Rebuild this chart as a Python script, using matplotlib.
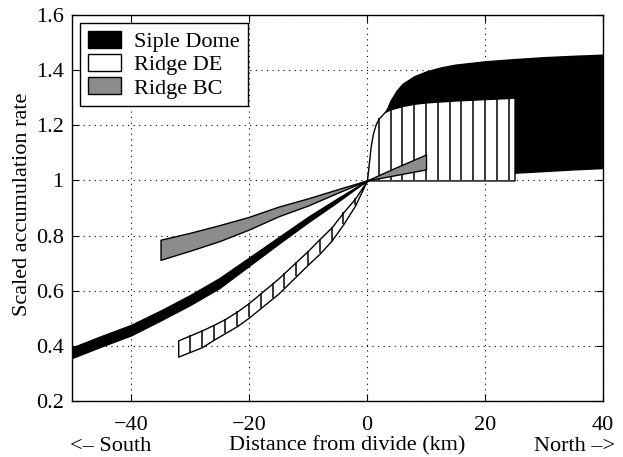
import numpy as np
import matplotlib
matplotlib.use("Agg")
import matplotlib.pyplot as plt
from matplotlib.patches import Patch
from matplotlib.ticker import FixedLocator, FuncFormatter

plt.rcParams['font.family'] = ['Liberation Serif', 'DejaVu Serif']
plt.rcParams['axes.unicode_minus'] = True

# ---- data ----
siple_x = [-50, -45, -40, -35, -30, -25, -20, -15, -10, -5, 0,
           1, 2, 3, 3.5, 4, 5, 6, 8, 10, 12.5, 15, 20, 25, 30, 35, 40]
siple_upper = [0.394, 0.436, 0.476, 0.528, 0.584, 0.646, 0.72, 0.794, 0.868, 0.935, 1.0,
               1.15, 1.21, 1.245, 1.265, 1.29, 1.325, 1.35, 1.378, 1.395, 1.41, 1.42,
               1.432, 1.44, 1.447, 1.452, 1.456]
siple_lower = [0.356, 0.398, 0.438, 0.492, 0.548, 0.61, 0.69, 0.77, 0.848, 0.922, 1.0,
               1.003, 1.006, 1.008, 1.009, 1.01, 1.012, 1.013, 1.016, 1.018, 1.02, 1.022,
               1.025, 1.028, 1.034, 1.04, 1.045]

de_x = [-32, -30, -28, -26, -24, -22, -20, -15, -10, -8, -6, -4, -2, 0,
        0.3, 0.6, 1, 1.5, 2, 3, 4, 6, 8, 10, 15, 20, 25]
de_upper = [0.42, 0.438, 0.456, 0.476, 0.498, 0.525, 0.556, 0.645, 0.745, 0.788, 0.83,
            0.885, 0.935, 1.0,
            1.06, 1.12, 1.17, 1.205, 1.225, 1.248, 1.258, 1.27, 1.278, 1.283, 1.29, 1.295, 1.30]
de_lower = [0.361, 0.378, 0.395, 0.422, 0.447, 0.472, 0.503, 0.59, 0.695, 0.735, 0.782,
            0.842, 0.91, 1.0,
            1.0, 1.0, 1.0, 1.0, 1.0, 1.0, 1.0, 1.0, 1.0, 1.0, 1.0, 1.0, 1.0]

bc_x = [-35, -30, -25, -20, -15, -10, -5, 0, 5, 10]
bc_upper = [0.785, 0.81, 0.838, 0.868, 0.905, 0.935, 0.968, 1.0, 1.048, 1.094]
bc_lower = [0.712, 0.745, 0.78, 0.822, 0.87, 0.909, 0.955, 1.0, 1.02, 1.04]

de_hatch_x = [-30, -28, -26, -24, -22, -20, -18, -16, -14, -12, -10, -8, -6, -4, -2,
              2, 4, 6, 8, 10, 12, 14, 16, 18, 20, 22, 24]

xticks = [-40, -20, 0, 20, 40]
yticks = [0.2, 0.4, 0.6, 0.8, 1.0, 1.2, 1.4, 1.6]

labels = ['Siple Dome', 'Ridge DE', 'Ridge BC']
colors = ['black', 'white', '0.55']

# ---- figure ----
fig = plt.figure(figsize=(6.23, 4.57), dpi=100)
ax = fig.add_axes([0.1156, 0.1225, 0.8523, 0.8447])

ax.fill_between(siple_x, siple_lower, siple_upper, facecolor=colors[0],
                edgecolor='black', linewidth=1.0, zorder=2)
ax.fill_between(de_x, de_lower, de_upper, facecolor=colors[1],
                edgecolor='black', linewidth=1.0, zorder=3)
lo = np.interp(de_hatch_x, de_x, de_lower)
hi = np.interp(de_hatch_x, de_x, de_upper)
ax.vlines(de_hatch_x, lo, hi, colors='black', linewidth=1.1, zorder=3.5)
ax.fill_between(bc_x, bc_lower, bc_upper, facecolor=colors[2],
                edgecolor='black', linewidth=1.0, zorder=4)

ax.set_xlim(-50, 40)
ax.set_ylim(0.2, 1.6)
ax.xaxis.set_major_locator(FixedLocator(xticks))
ax.yaxis.set_major_locator(FixedLocator(yticks))
ax.yaxis.set_major_formatter(FuncFormatter(lambda v, p: '%g' % v))
ax.tick_params(direction='in', length=5, width=0.8, top=True, right=True,
               labelsize=16)
ax.tick_params(axis='x', pad=10.5)
ax.tick_params(axis='y', pad=6)
ax.grid(True, linestyle=(0, (1, 4)), color='black', linewidth=0.8)
ax.set_axisbelow(True)
for s in ax.spines.values():
    s.set_linewidth(1.0)

ax.set_ylabel('Scaled accumulation rate', fontsize=16)
ax.yaxis.set_label_coords(-0.075, 0.51)

fig.text(0.557, 0.014, 'Distance from divide (km)', fontsize=16, ha='center', va='baseline')
fig.text(0.113, 0.014, '<\u2013 South', fontsize=16, ha='left', va='baseline')
fig.text(0.987, 0.014, 'North \u2013>', fontsize=16, ha='right', va='baseline')

handles = [Patch(facecolor=c, edgecolor='black', linewidth=1.0) for c in colors]
leg = ax.legend(handles, labels, loc='upper left', fontsize=16, frameon=True,
                fancybox=False, edgecolor='black', framealpha=1,
                handlelength=1.5, handleheight=0.8, labelspacing=0.1,
                borderpad=0.35, handletextpad=0.6, borderaxespad=0.35)
leg.get_frame().set_linewidth(1.0)
leg.set_zorder(10)

fig.savefig('out.png', dpi=100)
